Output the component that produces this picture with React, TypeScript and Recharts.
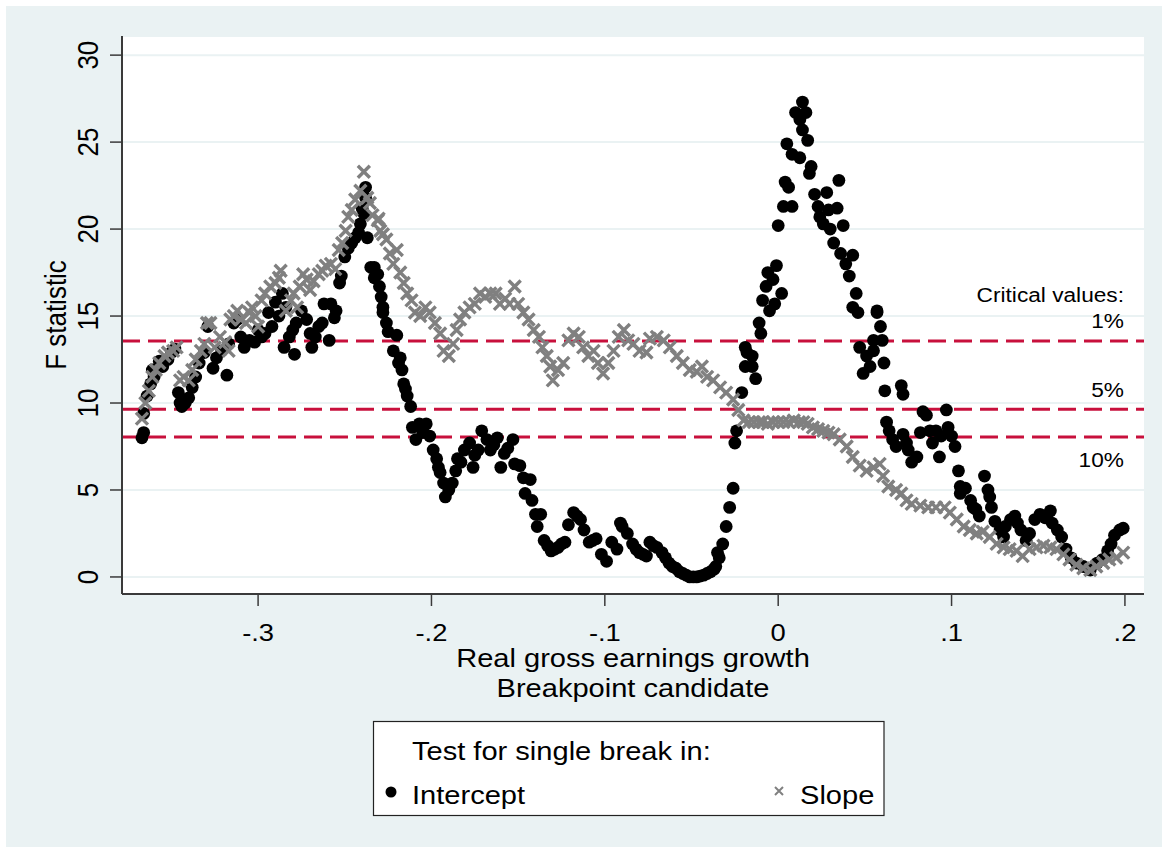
import React from 'react';
import { ScatterChart, Scatter, XAxis, YAxis, CartesianGrid, ReferenceLine } from 'recharts';

const FONT = '"Liberation Sans", Arial, Helvetica, sans-serif';
const STRETCH = 1.14;

const xTicks = [-0.3, -0.2, -0.1, 0, 0.1, 0.2];
const yTicks = [0, 5, 10, 15, 20, 25, 30];
const criticalValues = [13.56, 9.64, 8.05];
const criticalLabels = ['1%', '5%', '10%'];
const criticalTitle = 'Critical values:';
const xTitle = ['Real gross earnings growth', 'Breakpoint candidate'];
const yTitle = 'F statistic';
const legendTitle = 'Test for single break in:';
const seriesNames = ['Intercept', 'Slope'];

// Test for a break in the intercept: [breakpoint candidate, F statistic]
const intercept: [number, number][] = [
  [-0.367, 8.0], [-0.366, 8.3], [-0.366, 9.4], [-0.364, 10.4], [-0.362, 11.1], [-0.361, 11.9],
  [-0.36, 11.5], [-0.357, 12.4], [-0.355, 12.1], [-0.352, 12.5], [-0.35, 12.9], [-0.348, 13.1],
  [-0.346, 10.6], [-0.345, 10.0], [-0.344, 9.8], [-0.342, 10.0], [-0.34, 10.3], [-0.338, 10.9],
  [-0.336, 11.5], [-0.334, 12.3], [-0.331, 12.9], [-0.329, 14.4], [-0.326, 12.0], [-0.324, 12.6],
  [-0.321, 13.0], [-0.318, 11.6], [-0.317, 13.4], [-0.314, 14.6], [-0.312, 14.8], [-0.31, 13.8],
  [-0.308, 13.2], [-0.305, 13.6], [-0.302, 13.5], [-0.3, 14.2], [-0.298, 13.8], [-0.296, 14.0],
  [-0.294, 15.2], [-0.292, 14.4], [-0.29, 15.8], [-0.288, 15.0], [-0.286, 16.3], [-0.285, 13.2],
  [-0.284, 15.5], [-0.282, 13.8], [-0.28, 14.2], [-0.279, 12.8], [-0.278, 14.6], [-0.275, 15.3],
  [-0.272, 14.8], [-0.27, 14.0], [-0.269, 13.2], [-0.267, 13.8], [-0.265, 14.4], [-0.263, 14.6],
  [-0.262, 15.7], [-0.259, 13.6], [-0.258, 15.7], [-0.256, 14.9], [-0.255, 15.3], [-0.253, 16.9],
  [-0.252, 17.3], [-0.25, 18.4], [-0.248, 18.9], [-0.246, 19.2], [-0.244, 19.5], [-0.242, 19.8],
  [-0.241, 20.3], [-0.24, 21.2], [-0.239, 20.9], [-0.238, 22.4], [-0.238, 21.8], [-0.237, 19.5],
  [-0.235, 17.8], [-0.233, 17.2], [-0.233, 17.8], [-0.231, 17.4], [-0.23, 16.7], [-0.229, 16.1],
  [-0.228, 15.5], [-0.228, 15.2], [-0.226, 14.6], [-0.225, 14.1], [-0.222, 13.0], [-0.22, 13.9],
  [-0.219, 12.3], [-0.218, 12.6], [-0.217, 11.9], [-0.216, 11.1], [-0.215, 10.8], [-0.214, 10.4],
  [-0.212, 9.8], [-0.211, 8.6], [-0.209, 7.9], [-0.207, 8.8], [-0.205, 8.3], [-0.203, 8.8],
  [-0.201, 8.1], [-0.199, 7.3], [-0.197, 6.8], [-0.196, 6.3], [-0.195, 6.0], [-0.193, 5.4],
  [-0.192, 4.6], [-0.19, 5.0], [-0.188, 5.4], [-0.186, 6.1], [-0.185, 6.8], [-0.183, 6.6],
  [-0.181, 7.3], [-0.178, 7.7], [-0.176, 6.3], [-0.175, 7.0], [-0.173, 7.3], [-0.171, 8.4],
  [-0.168, 7.9], [-0.166, 7.3], [-0.164, 7.6], [-0.162, 8.0], [-0.16, 6.3], [-0.158, 7.1],
  [-0.156, 7.4], [-0.153, 7.9], [-0.152, 6.5], [-0.149, 6.4], [-0.147, 5.7], [-0.146, 4.8],
  [-0.143, 5.6], [-0.142, 4.4], [-0.14, 3.6], [-0.139, 2.9], [-0.137, 3.6], [-0.135, 2.1],
  [-0.133, 1.8], [-0.131, 1.5], [-0.129, 1.6], [-0.127, 1.7], [-0.125, 1.9], [-0.123, 2.0],
  [-0.121, 3.0], [-0.118, 3.7], [-0.116, 3.5], [-0.114, 3.3], [-0.112, 2.7], [-0.109, 2.0],
  [-0.107, 2.1], [-0.105, 2.2], [-0.102, 1.3], [-0.099, 0.9], [-0.096, 2.0], [-0.093, 1.6],
  [-0.091, 3.1], [-0.09, 2.9], [-0.087, 2.5], [-0.084, 1.9], [-0.082, 1.6], [-0.08, 1.4],
  [-0.078, 1.3], [-0.076, 1.2], [-0.074, 2.0], [-0.072, 1.8], [-0.07, 1.7], [-0.067, 1.4],
  [-0.065, 1.1], [-0.063, 0.8], [-0.061, 0.6], [-0.059, 0.5], [-0.057, 0.3], [-0.055, 0.2],
  [-0.053, 0.1], [-0.051, 0.0], [-0.049, 0.0], [-0.047, 0.0], [-0.045, 0.05], [-0.043, 0.1],
  [-0.041, 0.2], [-0.039, 0.3], [-0.037, 0.45], [-0.036, 0.6], [-0.035, 1.4], [-0.034, 1.1],
  [-0.032, 1.9], [-0.03, 2.9], [-0.028, 4.0], [-0.026, 5.1], [-0.025, 7.7], [-0.024, 8.4],
  [-0.021, 10.6], [-0.019, 12.1], [-0.019, 13.2], [-0.018, 12.9], [-0.015, 12.1], [-0.015, 12.7],
  [-0.013, 11.4], [-0.011, 14.6], [-0.01, 14.0], [-0.009, 15.9], [-0.007, 16.7], [-0.006, 17.5],
  [-0.005, 15.3], [-0.003, 17.1], [-0.002, 15.7], [-0.001, 17.9], [0.0, 20.2], [0.002, 16.3],
  [0.003, 21.3], [0.004, 22.7], [0.005, 24.9], [0.006, 22.4], [0.008, 21.3], [0.008, 24.3],
  [0.01, 26.7], [0.0125, 24.1], [0.0125, 26.3], [0.014, 27.3], [0.014, 25.7], [0.016, 26.7],
  [0.017, 25.1], [0.018, 23.2], [0.019, 23.6], [0.021, 22.0], [0.023, 21.3], [0.024, 20.7],
  [0.026, 20.3], [0.028, 22.1], [0.029, 21.1], [0.03, 20.0], [0.032, 19.2], [0.034, 21.2],
  [0.035, 22.8], [0.036, 18.6], [0.0375, 20.2], [0.039, 18.0], [0.041, 17.3], [0.043, 18.5],
  [0.043, 15.5], [0.045, 16.3], [0.046, 15.2], [0.047, 13.2], [0.049, 11.7], [0.051, 12.7],
  [0.053, 12.1], [0.055, 13.0], [0.055, 13.6], [0.057, 15.3], [0.057, 15.2], [0.059, 14.4],
  [0.06, 13.6], [0.061, 12.3], [0.0615, 10.7], [0.0625, 8.9], [0.064, 8.4], [0.066, 7.9],
  [0.068, 7.5], [0.071, 11.0], [0.072, 10.5], [0.072, 8.2], [0.074, 7.7], [0.075, 7.3],
  [0.077, 6.6], [0.08, 6.9], [0.082, 8.3], [0.0835, 9.5], [0.0855, 9.3], [0.0875, 8.4],
  [0.089, 7.7], [0.091, 8.4], [0.093, 6.9], [0.094, 8.1], [0.097, 9.6], [0.098, 8.6],
  [0.1, 8.1], [0.102, 7.5], [0.104, 6.1], [0.105, 5.2], [0.105, 4.8], [0.108, 5.1],
  [0.111, 4.4], [0.1125, 4.0], [0.114, 3.9], [0.116, 3.5], [0.119, 5.8], [0.121, 5.0],
  [0.122, 4.6], [0.123, 4.0], [0.125, 3.2], [0.128, 2.7], [0.13, 2.3], [0.131, 2.9],
  [0.134, 3.3], [0.1365, 3.5], [0.138, 3.1], [0.14, 2.7], [0.143, 2.1], [0.145, 2.5],
  [0.148, 3.3], [0.151, 3.6], [0.154, 3.4], [0.157, 3.8], [0.158, 3.1], [0.161, 2.7],
  [0.1635, 2.3], [0.166, 1.6], [0.169, 1.1], [0.172, 0.8], [0.176, 0.6], [0.18, 0.4],
  [0.184, 0.8], [0.187, 1.0], [0.19, 1.5], [0.192, 1.9], [0.194, 2.4], [0.197, 2.7],
  [0.199, 2.8],
];

// Test for a break in the slope: [breakpoint candidate, F statistic]
const slope: [number, number][] = [
  [-0.367, 9.1], [-0.365, 10.0], [-0.363, 10.7], [-0.361, 11.5], [-0.359, 11.9], [-0.357, 12.3],
  [-0.354, 12.7], [-0.352, 12.9], [-0.349, 13.0], [-0.347, 13.2], [-0.345, 11.3], [-0.343, 11.5],
  [-0.34, 11.3], [-0.338, 11.9], [-0.336, 12.5], [-0.333, 13.0], [-0.331, 13.4], [-0.3295, 14.6],
  [-0.3275, 14.6], [-0.325, 13.2], [-0.322, 13.8], [-0.319, 13.5], [-0.317, 13.0], [-0.316, 14.8],
  [-0.314, 15.0], [-0.312, 15.3], [-0.31, 14.8], [-0.307, 14.6], [-0.305, 15.2], [-0.3035, 15.5],
  [-0.3015, 15.0], [-0.3, 14.4], [-0.298, 15.9], [-0.296, 16.3], [-0.293, 16.7], [-0.29, 16.9],
  [-0.288, 17.2], [-0.287, 17.6], [-0.284, 15.3], [-0.281, 15.9], [-0.2795, 16.3], [-0.2775, 15.5],
  [-0.276, 16.7], [-0.274, 17.4], [-0.272, 17.1], [-0.27, 16.5], [-0.268, 17.0], [-0.265, 17.4],
  [-0.263, 17.6], [-0.261, 17.9], [-0.258, 18.0], [-0.2555, 17.7], [-0.2535, 18.8], [-0.2515, 19.2],
  [-0.2495, 19.9], [-0.248, 20.7], [-0.246, 21.1], [-0.244, 21.7], [-0.241, 22.2], [-0.239, 23.3],
  [-0.237, 21.8], [-0.2355, 21.5], [-0.234, 20.8], [-0.231, 20.5], [-0.2305, 20.6], [-0.2295, 19.9],
  [-0.228, 19.7], [-0.226, 19.4], [-0.224, 18.6], [-0.222, 18.0], [-0.22, 18.8], [-0.218, 17.5],
  [-0.216, 16.9], [-0.214, 16.3], [-0.2115, 15.9], [-0.2095, 15.2], [-0.2065, 15.0], [-0.2035, 15.5],
  [-0.201, 15.2], [-0.198, 14.6], [-0.195, 14.0], [-0.193, 13.0], [-0.19, 12.7], [-0.1875, 13.4],
  [-0.1855, 14.2], [-0.1835, 14.8], [-0.181, 15.2], [-0.178, 15.5], [-0.175, 15.7], [-0.172, 16.3],
  [-0.169, 16.1], [-0.166, 16.3], [-0.163, 16.3], [-0.1605, 15.7], [-0.1575, 16.0], [-0.155, 15.7],
  [-0.152, 16.7], [-0.15, 15.7], [-0.147, 15.2], [-0.144, 14.8], [-0.141, 14.2], [-0.138, 13.8],
  [-0.136, 13.2], [-0.1335, 12.7], [-0.1315, 12.1], [-0.13, 11.3], [-0.127, 11.9], [-0.124, 12.3],
  [-0.121, 13.6], [-0.118, 14.0], [-0.115, 13.8], [-0.1125, 13.2], [-0.1095, 12.7], [-0.1065, 13.0],
  [-0.104, 12.3], [-0.101, 11.7], [-0.098, 12.3], [-0.095, 13.0], [-0.092, 13.8], [-0.089, 14.2],
  [-0.0865, 13.6], [-0.0835, 13.4], [-0.08, 13.0], [-0.076, 12.9], [-0.074, 13.7], [-0.07, 13.8],
  [-0.066, 13.6], [-0.0625, 13.2], [-0.0585, 12.7], [-0.055, 12.3], [-0.051, 11.9], [-0.047, 11.8],
  [-0.044, 12.1], [-0.041, 11.5], [-0.0375, 11.3], [-0.0335, 10.9], [-0.03, 10.6], [-0.026, 10.2],
  [-0.023, 9.6], [-0.02, 9.0], [-0.017, 8.9], [-0.014, 8.9], [-0.011, 8.9], [-0.009, 8.9],
  [-0.006, 8.8], [-0.003, 8.9], [0.0, 8.9], [0.003, 8.9], [0.006, 8.9], [0.009, 9.0],
  [0.012, 8.9], [0.0145, 8.9], [0.017, 8.8], [0.02, 8.6], [0.023, 8.5], [0.026, 8.4],
  [0.029, 8.3], [0.032, 8.2], [0.0355, 7.9], [0.0395, 7.5], [0.043, 6.9], [0.047, 6.4],
  [0.051, 6.1], [0.055, 6.3], [0.0585, 6.5], [0.0605, 5.8], [0.0635, 5.2], [0.068, 5.0],
  [0.071, 4.8], [0.074, 4.4], [0.077, 4.2], [0.082, 4.1], [0.0865, 4.0], [0.091, 4.0],
  [0.096, 4.0], [0.099, 3.7], [0.103, 3.3], [0.107, 2.9], [0.1105, 2.7], [0.1145, 2.5],
  [0.118, 2.6], [0.122, 2.3], [0.126, 1.9], [0.13, 1.7], [0.1335, 1.6], [0.1375, 1.5],
  [0.141, 1.2], [0.145, 1.6], [0.149, 1.7], [0.153, 1.8], [0.157, 1.7], [0.1605, 1.6],
  [0.1645, 1.3], [0.168, 1.0], [0.172, 0.7], [0.176, 0.5], [0.18, 0.4], [0.1835, 0.6],
  [0.1875, 0.8], [0.191, 1.0], [0.195, 1.1], [0.199, 1.4],
];

const interceptData = intercept.map(([x, y]) => ({ x, y }));
const slopeData = slope.map(([x, y]) => ({ x, y }));

const PANEL = '#EAF2F3';
const AXIS = '#3a3a3a';
const RED = '#C8103C';
const GRAY = '#808080';

const fmtX = (v: number) => {
  if (Math.abs(v) < 1e-9) return '0';
  const s = Math.abs(v).toFixed(1).replace(/^0/, '');
  return v < 0 ? '-' + s : s;
};

const XTick = (props: any) => {
  const { x, payload } = props;
  return (
    <text transform={`translate(${x},641) scale(${STRETCH},1)`} textAnchor="middle"
      fontFamily={FONT} fontSize={24} fill="#000">{fmtX(payload.value)}</text>
  );
};

const YTick = (props: any) => {
  const { y, payload } = props;
  return (
    <text transform={`translate(98,${y}) scale(${STRETCH},1) rotate(-90)`} textAnchor="middle"
      fontFamily={FONT} fontSize={26} fill="#000">{payload.value}</text>
  );
};

const Dot = (props: any) => <circle cx={props.cx} cy={props.cy} r={6.4} fill="#000" />;
const Cross = (props: any) => {
  const { cx, cy } = props;
  const d = 6;
  return (
    <path d={`M${cx - d},${cy - d}L${cx + d},${cy + d}M${cx - d},${cy + d}L${cx + d},${cy - d}`}
      stroke={GRAY} strokeWidth={3.4} fill="none" />
  );
};

const labelDy = [-13, -12, 30];
const makeLabel = (i: number) => (props: any) => {
  const vb = props.viewBox || {};
  const right = vb.x + vb.width - 20;
  return (
    <g fontFamily={FONT} fontSize={21} fill="#000">
      {i === 0 && (
        <text transform={`translate(${right},${vb.y - 39}) scale(1.08,1)`} textAnchor="end">{criticalTitle}</text>
      )}
      <text transform={`translate(${right},${vb.y + labelDy[i]}) scale(1.08,1)`} textAnchor="end">{criticalLabels[i]}</text>
    </g>
  );
};

export default function App() {
  return (
    <div style={{ position: 'absolute', left: 0, top: 0, width: 1168, height: 853, background: '#fff' }}>
      <div style={{ position: 'absolute', left: 6, top: 6, width: 1156, height: 841, background: PANEL }} />
      <div style={{ position: 'absolute', left: 0, top: 0 }}>
        <ScatterChart width={1168} height={853} margin={{ top: 36, right: 24, left: 62, bottom: 199 }}>
          <CartesianGrid horizontal vertical={false} stroke={PANEL} strokeWidth={2} fill="#fff" fillOpacity={1} />
          <XAxis dataKey="x" type="number" domain={[-0.3785, 0.211]} ticks={xTicks} allowDataOverflow
            height={60} tick={<XTick />} tickSize={12} tickMargin={0}
            axisLine={{ stroke: AXIS, strokeWidth: 2 }} tickLine={{ stroke: AXIS, strokeWidth: 1.5 }} />
          <YAxis dataKey="y" type="number" domain={[-0.98, 31.1]} ticks={yTicks} allowDataOverflow
            width={60} tick={<YTick />} tickSize={12} tickMargin={0}
            axisLine={{ stroke: AXIS, strokeWidth: 2 }} tickLine={{ stroke: AXIS, strokeWidth: 1.5 }} />
          {criticalValues.map((v, i) => (
            <ReferenceLine key={i} y={v} stroke={RED} strokeWidth={3} strokeDasharray="18 8" label={makeLabel(i)} />
          ))}
          <Scatter name={seriesNames[0]} data={interceptData} shape={Dot} isAnimationActive={false} />
          <Scatter name={seriesNames[1]} data={slopeData} shape={Cross} isAnimationActive={false} />
        </ScatterChart>
      </div>
      <svg width={1168} height={853} style={{ position: 'absolute', left: 0, top: 0, pointerEvents: 'none' }}
        fontFamily={FONT}>
        <text transform={`translate(66,315) scale(${STRETCH},1) rotate(-90)`} textAnchor="middle" fontSize={26}>{yTitle}</text>
        <text transform={`translate(633,667) scale(${STRETCH},1)`} textAnchor="middle" fontSize={25.5}>{xTitle[0]}</text>
        <text transform={`translate(633,697) scale(${STRETCH},1)`} textAnchor="middle" fontSize={25.5}>{xTitle[1]}</text>
        <rect x={373.5} y={721.5} width={510.5} height={94} fill="#fff" stroke="#222" strokeWidth={1.2} />
        <text transform={`translate(412,760) scale(${STRETCH},1)`} fontSize={25.5}>{legendTitle}</text>
        <circle cx={391} cy={792} r={5.5} fill="#000" />
        <text transform={`translate(412,804) scale(${STRETCH},1)`} fontSize={25.5}>{seriesNames[0]}</text>
        <path d="M775,787L783,795M775,795L783,787" stroke={GRAY} strokeWidth={2} />
        <text transform={`translate(800,804) scale(${STRETCH},1)`} fontSize={25.5}>{seriesNames[1]}</text>
      </svg>
    </div>
  );
}
